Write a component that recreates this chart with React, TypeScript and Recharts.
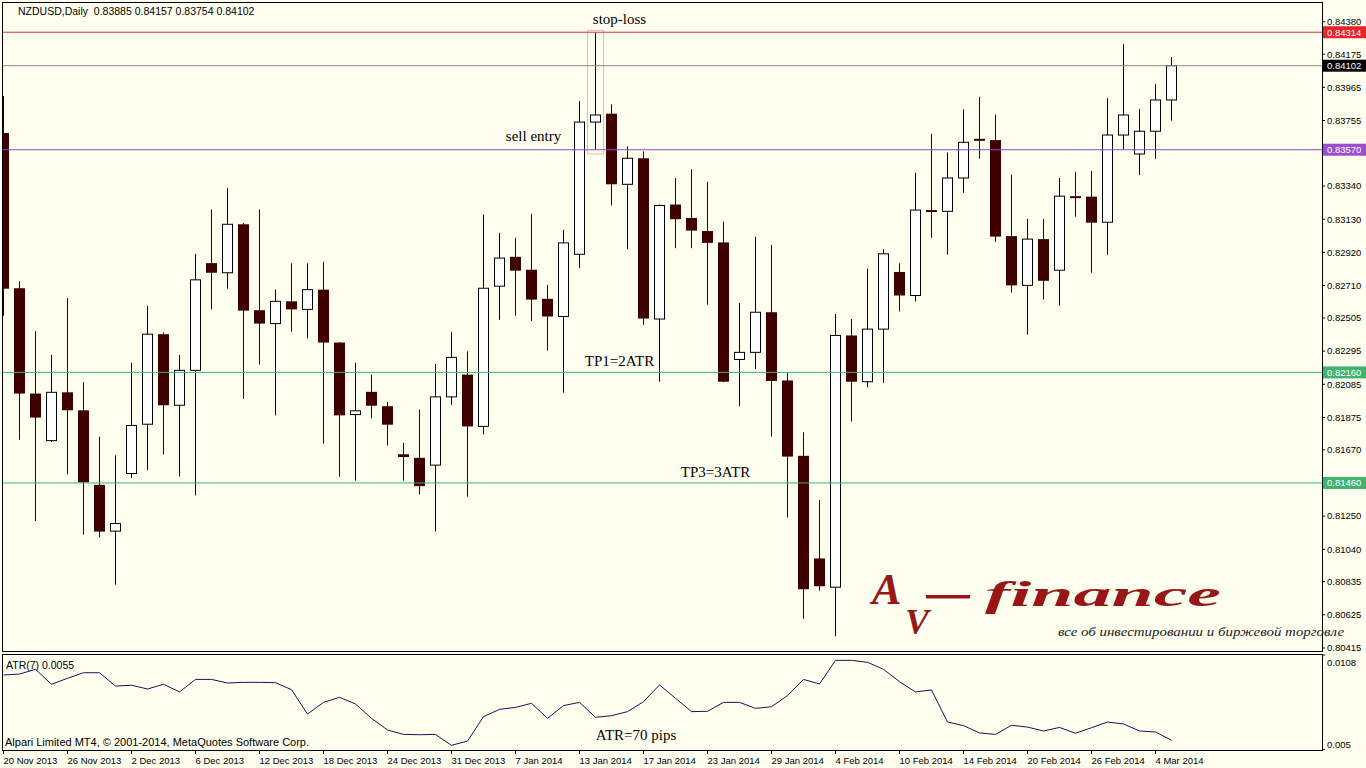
import React from 'react'
import { ComposedChart, Bar, Line, XAxis, YAxis, ReferenceLine, ReferenceArea, ReferenceDot } from 'recharts'

const BG = '#FFFFF0'
const SANS = '"Liberation Sans", Arial, sans-serif'
const SERIF = '"Liberation Serif", "Times New Roman", serif'

const dates = [
  '20 Nov 2013', '21 Nov 2013', '22 Nov 2013', '25 Nov 2013', '26 Nov 2013', '27 Nov 2013', '28 Nov 2013', '29 Nov 2013',
  '2 Dec 2013', '3 Dec 2013', '4 Dec 2013', '5 Dec 2013', '6 Dec 2013', '9 Dec 2013', '10 Dec 2013', '11 Dec 2013',
  '12 Dec 2013', '13 Dec 2013', '16 Dec 2013', '17 Dec 2013', '18 Dec 2013', '19 Dec 2013', '20 Dec 2013', '23 Dec 2013',
  '24 Dec 2013', '26 Dec 2013', '27 Dec 2013', '30 Dec 2013', '31 Dec 2013', '2 Jan 2014', '3 Jan 2014', '6 Jan 2014',
  '7 Jan 2014', '8 Jan 2014', '9 Jan 2014', '10 Jan 2014', '13 Jan 2014', '14 Jan 2014', '15 Jan 2014', '16 Jan 2014',
  '17 Jan 2014', '20 Jan 2014', '21 Jan 2014', '22 Jan 2014', '23 Jan 2014', '24 Jan 2014', '27 Jan 2014', '28 Jan 2014',
  '29 Jan 2014', '30 Jan 2014', '31 Jan 2014', '3 Feb 2014', '4 Feb 2014', '5 Feb 2014', '6 Feb 2014', '7 Feb 2014',
  '10 Feb 2014', '11 Feb 2014', '12 Feb 2014', '13 Feb 2014', '14 Feb 2014', '17 Feb 2014', '18 Feb 2014', '19 Feb 2014',
  '20 Feb 2014', '21 Feb 2014', '24 Feb 2014', '25 Feb 2014', '26 Feb 2014', '27 Feb 2014', '28 Feb 2014', '3 Mar 2014',
  '4 Mar 2014', '5 Mar 2014',
]

const opens = [
  0.83676, 0.82693, 0.82026, 0.81728, 0.82034, 0.8192, 0.81448, 0.81155, 0.8152, 0.81832,
  0.82402, 0.81952, 0.82173, 0.82852, 0.82791, 0.83098, 0.82554, 0.82469, 0.8261, 0.82559,
  0.82684, 0.82349, 0.81893, 0.82037, 0.81946, 0.81642, 0.81619, 0.81573, 0.82005, 0.82146,
  0.81818, 0.82706, 0.82892, 0.8281, 0.82626, 0.82514, 0.82908, 0.83745, 0.83798, 0.83351,
  0.83516, 0.82498, 0.83223, 0.83138, 0.83055, 0.82983, 0.82242, 0.82287, 0.82541, 0.82109,
  0.81632, 0.80982, 0.808, 0.82394, 0.82101, 0.82434, 0.82796, 0.82647, 0.83188, 0.8318,
  0.83391, 0.83639, 0.83631, 0.83023, 0.82711, 0.83004, 0.82807, 0.83276, 0.83273, 0.83111,
  0.83663, 0.83543, 0.83687, 0.83885,
]
const highs = [
  0.8391, 0.82738, 0.82421, 0.82271, 0.82631, 0.82098, 0.81754, 0.81634, 0.82221, 0.82581,
  0.82413, 0.82271, 0.82911, 0.83191, 0.83327, 0.83106, 0.83191, 0.82684, 0.8285, 0.8285,
  0.8286, 0.82352, 0.82221, 0.82146, 0.81973, 0.81714, 0.81925, 0.82213, 0.82415, 0.82293,
  0.83159, 0.83044, 0.83012, 0.83164, 0.82714, 0.83063, 0.83878, 0.84312, 0.83857, 0.83591,
  0.83559, 0.83223, 0.83391, 0.83447, 0.83367, 0.83114, 0.82599, 0.8302, 0.82967, 0.8216,
  0.81781, 0.81352, 0.8253, 0.82498, 0.82818, 0.8294, 0.8285, 0.83425, 0.83671, 0.83553,
  0.83825, 0.83905, 0.83793, 0.83412, 0.83132, 0.83132, 0.83391, 0.83431, 0.83436, 0.83897,
  0.84238, 0.83828, 0.83985, 0.84157,
]
const lows = [
  0.82519, 0.81733, 0.81219, 0.8172, 0.81515, 0.81133, 0.81115, 0.80816, 0.81493, 0.81541,
  0.8164, 0.81501, 0.81381, 0.82559, 0.8269, 0.81992, 0.8221, 0.81888, 0.82418, 0.82375,
  0.81709, 0.81499, 0.81475, 0.81869, 0.81696, 0.81475, 0.81387, 0.81152, 0.81954, 0.81373,
  0.81768, 0.82493, 0.82519, 0.82485, 0.82298, 0.82032, 0.8282, 0.83572, 0.83217, 0.8294,
  0.82461, 0.82101, 0.82946, 0.82946, 0.82589, 0.82098, 0.81946, 0.82181, 0.81754, 0.8124,
  0.806, 0.80779, 0.80489, 0.81848, 0.82066, 0.82093, 0.82546, 0.8261, 0.83012, 0.82906,
  0.83297, 0.83513, 0.82986, 0.82666, 0.82399, 0.82621, 0.82583, 0.83146, 0.82791, 0.82903,
  0.83572, 0.83409, 0.83511, 0.83754,
]
const closes = [
  0.8269, 0.82026, 0.81874, 0.82034, 0.8192, 0.81464, 0.81152, 0.81203, 0.81824, 0.82402,
  0.81952, 0.82173, 0.82746, 0.82791, 0.83098, 0.82551, 0.82469, 0.8261, 0.82559, 0.82684,
  0.82349, 0.81888, 0.81917, 0.81949, 0.81829, 0.81624, 0.8144, 0.82005, 0.82255, 0.81818,
  0.82693, 0.82884, 0.82804, 0.82621, 0.82514, 0.8298, 0.83745, 0.8379, 0.83351, 0.83516,
  0.82501, 0.83217, 0.8313, 0.83058, 0.8298, 0.82101, 0.82287, 0.82541, 0.82106, 0.81627,
  0.80787, 0.80806, 0.82394, 0.82101, 0.82434, 0.82911, 0.82647, 0.83188, 0.83183, 0.83391,
  0.83617, 0.83628, 0.8302, 0.82711, 0.83004, 0.8274, 0.83276, 0.83271, 0.83108, 0.83663,
  0.8379, 0.83687, 0.83885, 0.84102,
]
const atr7 = [
  0.00957, 0.00963, 0.00992, 0.009, 0.00937, 0.00971, 0.00971, 0.00889, 0.00894, 0.00871,
  0.009, 0.00853, 0.0093, 0.0093, 0.00908, 0.00912, 0.00912, 0.0091, 0.00867, 0.00717,
  0.00789, 0.0082, 0.00779, 0.00691, 0.00619, 0.00592, 0.0059, 0.00592, 0.00525, 0.00551,
  0.00701, 0.00746, 0.00758, 0.00783, 0.00691, 0.00769, 0.00789, 0.00697, 0.00707, 0.00732,
  0.00793, 0.00896, 0.00814, 0.00732, 0.00734, 0.00789, 0.00789, 0.00752, 0.00762, 0.0083,
  0.0093, 0.00902, 0.01047, 0.01047, 0.01035, 0.00992, 0.00916, 0.00853, 0.00865, 0.00668,
  0.00646, 0.00601, 0.00592, 0.00648, 0.00637, 0.00613, 0.00635, 0.00599, 0.00633, 0.00668,
  0.00656, 0.00613, 0.00607, 0.00556,
]

const priceTicks = [
  0.8438, 0.84175, 0.83965, 0.83755, 0.8334, 0.8313, 0.8292, 0.8271, 0.82505, 0.82295,
  0.82085, 0.81875, 0.8167, 0.8125, 0.8104, 0.80835, 0.80625, 0.80415,
]
const atrTicks = [0.005, 0.0108]
const dateTicks = [0, 4, 8, 12, 16, 20, 24, 28, 32, 36, 40, 44, 48, 52, 56, 60, 64, 68, 72]

// stop-loss, bid, sell entry, TP1, TP3
const levelPrices = [0.84314, 0.84102, 0.8357, 0.8216, 0.8146]
const levelLine = ['#D83030', '#8C8C8C', '#8A4FC0', '#3CB371', '#3CB371']
const levelTag = ['#E8232A', '#000000', '#9B4FD0', '#3DB56F', '#3DB56F']

const candles = dates.map((date, i) => ({ date, open: opens[i], high: highs[i], low: lows[i], close: closes[i] }))
const atrRows = atr7.map((atr, i) => ({ i, atr }))

function Candle(props: any) {
  const { x, y, width, height, payload } = props
  if (!payload || x == null || y == null) return null
  const { open, high, low, close } = payload
  const top = Math.min(y, y + height)
  const span = Math.abs(height)
  const py = (p: number) => top + ((high - p) / (high - low)) * span
  const cx = x + width / 2
  const bodyTop = py(Math.max(open, close))
  const bodyBot = py(Math.min(open, close))
  if (close >= open) {
    return (
      <g>
        <line x1={cx} x2={cx} y1={py(high)} y2={py(low)} stroke="#000" />
        <rect x={cx - 5} y={bodyTop} width={10} height={Math.max(bodyBot - bodyTop, 1)} fill="#fff" stroke="#000" />
      </g>
    )
  }
  return (
    <g>
      <line x1={cx} x2={cx} y1={py(high)} y2={py(low)} stroke="#300000" />
      <rect x={cx - 5.5} y={bodyTop} width={11} height={Math.max(bodyBot - bodyTop, 2)} fill="#400000" />
    </g>
  )
}

const tagLabel = (price: number, bg: string) => (p: any) => {
  const vb = p.viewBox || {}
  const x = vb.x + vb.width
  const y = vb.y
  return (
    <g>
      <rect x={x + 1} y={y - 6} width={44} height={12} fill={bg} />
      <text x={x + 5} y={y} dy="0.35em" fill="#fff" fontSize={9.5} fontFamily={SANS}>
        {price.toFixed(5)}
      </text>
    </g>
  )
}

const noteLabel = (text: string, dx: number) => (p: any) => {
  const vb = p.viewBox || {}
  const cx = (vb.x ?? 0) + (vb.width ?? 0) / 2 + dx
  const cy = (vb.y ?? 0) + (vb.height ?? 0) / 2
  return (
    <text x={cx} y={cy} dy="0.35em" textAnchor="middle" fontFamily={SERIF} fontSize={15} fill="#000">
      {text}
    </text>
  )
}

function DateTick(props: any) {
  const { x, y, payload } = props
  return (
    <text x={x} y={y + 8} fontSize={9.5} fontFamily={SANS} fill="#000">
      {dates[payload.value]}
    </text>
  )
}

function AtrTick(props: any) {
  const { x, y, payload } = props
  const top = payload.value > 0.01
  return (
    <text x={x} y={y + (top ? 8 : -5)} dy="0.35em" fontSize={9.5} fontFamily={SANS} fill="#000">
      {top ? '0.0108' : '0.005'}
    </text>
  )
}

export default function App() {
  return (
    <div style={{ position: 'absolute', left: 0, top: 0, width: 1366, height: 768, background: BG, overflow: 'hidden' }}>
      <div style={{ position: 'absolute', left: 0, top: 0 }}>
        <ComposedChart
          width={1366}
          height={652}
          data={candles}
          margin={{ top: 3, right: 0, bottom: 1, left: -4.5 }}
          barCategoryGap={0}
        >
          <XAxis dataKey="date" hide padding={{ left: 0, right: 142.5 }} />
          <YAxis
            orientation="right"
            width={44}
            domain={[0.80396, 0.84499]}
            allowDataOverflow
            ticks={priceTicks}
            interval={0}
            tickSize={3}
            tickMargin={2}
            axisLine={false}
            stroke="#000"
            tick={{ fontSize: 9.5, fill: '#000', fontFamily: SANS }}
            tickFormatter={(v: number) => v.toFixed(5)}
          />
          {levelPrices.map((p, i) => (
            <ReferenceLine key={p} y={p} stroke={levelLine[i]} strokeWidth={1} label={tagLabel(p, levelTag[i])} />
          ))}
          <ReferenceArea x1={dates[37]} x2={dates[37]} y1={0.83543} y2={0.84326} fill="none" stroke="#EDB4B4" strokeWidth={1} />
          <Bar dataKey={(d: any) => [d.low, d.high]} shape={Candle} isAnimationActive={false} />
          <ReferenceDot x={dates[38]} y={0.84401} r={1} fill="none" stroke="none" label={noteLabel('stop-loss', 8)} />
          <ReferenceDot x={dates[33]} y={0.8366} r={1} fill="none" stroke="none" label={noteLabel('sell entry', 2)} />
          <ReferenceDot x={dates[38]} y={0.82232} r={1} fill="none" stroke="none" label={noteLabel('TP1=2ATR', 8)} />
          <ReferenceDot x={dates[44]} y={0.81533} r={1} fill="none" stroke="none" label={noteLabel('TP3=3ATR', 8)} />
        </ComposedChart>
      </div>

      <div style={{ position: 'absolute', left: 0, top: 654 }}>
        <ComposedChart width={1366} height={114} data={atrRows} margin={{ top: 1, right: 0, bottom: 0, left: -4.5 }}>
          <XAxis
            dataKey="i"
            type="number"
            domain={[-0.5, 82.40625]}
            allowDataOverflow
            ticks={dateTicks}
            interval={0}
            height={17}
            tickSize={3}
            tickMargin={2}
            axisLine={false}
            stroke="#000"
            tick={<DateTick />}
          />
          <YAxis
            orientation="right"
            width={44}
            domain={[0.0049, 0.0108]}
            allowDataOverflow
            ticks={atrTicks}
            interval={0}
            tickSize={3}
            tickMargin={2}
            axisLine={false}
            stroke="#000"
            tick={<AtrTick />}
          />
          <Line dataKey="atr" stroke="#14145A" strokeWidth={1} dot={false} isAnimationActive={false} />
          <ReferenceDot x={39} y={0.00588} r={1} fill="none" stroke="none" label={noteLabel('ATR=70 pips', 8.5)} />
        </ComposedChart>
      </div>

      <svg width={1366} height={768} style={{ position: 'absolute', left: 0, top: 0, pointerEvents: 'none' }}>
        <rect x={0} y={0} width={2.5} height={768} fill={BG} />
        <rect x={2.5} y={2.5} width={1320} height={649} fill="none" stroke="#000" />
        <rect x={2.5} y={654.5} width={1320} height={96} fill="none" stroke="#000" />
        <text x={18} y={11} dy="0.35em" fontSize={10.5} fontFamily={SANS} fill="#000" xmlSpace="preserve">
          NZDUSD,Daily  0.83885 0.84157 0.83754 0.84102
        </text>
        <text x={6} y={665} dy="0.35em" fontSize={10.5} fontFamily={SANS} fill="#000">
          ATR(7) 0.0055
        </text>
        <text x={5} y={742} dy="0.35em" fontSize={11} fontFamily={SANS} fill="#000">
          Alpari Limited MT4, © 2001-2014, MetaQuotes Software Corp.
        </text>
        <g fill="#9A1616" fontFamily={SERIF} fontStyle="italic" fontWeight="bold">
          <text x={872} y={604} fontSize={44}>A</text>
          <text x={905} y={634} fontSize={36}>V</text>
          <rect x={926} y={595} width={44} height={3.5} />
          <text x={985} y={606} fontSize={36} textLength={236} lengthAdjust="spacingAndGlyphs">finance</text>
        </g>
        <text x={1058} y={636} fontSize={13} fontFamily={SERIF} fontStyle="italic" fill="#222" textLength={286} lengthAdjust="spacingAndGlyphs">
          все об инвестировании и биржевой торговле
        </text>
      </svg>
    </div>
  )
}
